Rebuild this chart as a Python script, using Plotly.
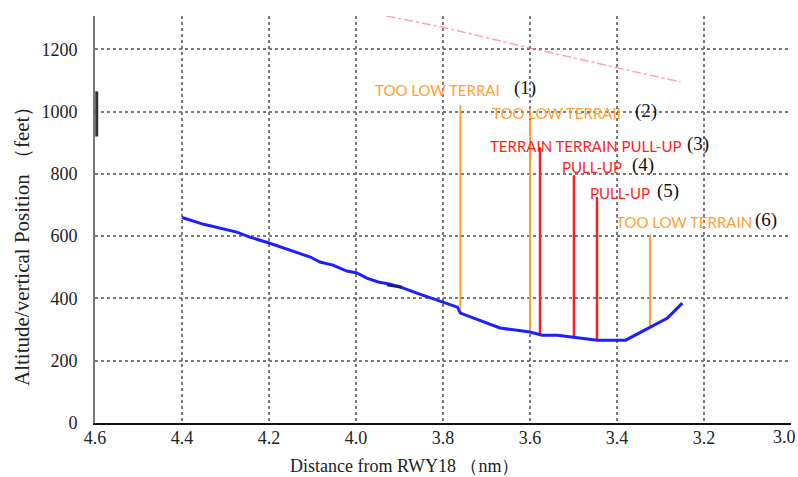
import plotly.graph_objects as go

# Flight path (distance nm, altitude ft)
path_x = [4.40, 4.35, 4.274, 4.244, 4.20, 4.135, 4.105, 4.083, 4.053, 4.021, 3.998, 3.975,
          3.949, 3.922, 3.899, 3.86, 3.80, 3.767, 3.760, 3.669, 3.60, 3.572, 3.537, 3.50,
          3.445, 3.38, 3.353, 3.328, 3.284, 3.25]
path_y = [660, 638, 613, 597, 578, 546, 533, 517, 507, 488, 482, 465,
          453, 446, 437, 417, 388, 372, 353, 305, 292, 282, 282, 276,
          266, 266, 286, 302, 337, 385]

# small dark stroke over the path and mark on the left axis (as in the source image)
stroke_x = [3.929, 3.894]
stroke_y = [444, 436]
axis_mark_x = [4.596, 4.596]
axis_mark_y = [920, 1065]

# Glide reference (faint pink dashed)
glide_x = [3.93, 3.80, 3.60, 3.40, 3.254]
glide_y = [1307, 1271, 1204, 1140, 1095]

# GPWS alerts
alert_x = [3.76, 3.60, 3.577, 3.499, 3.446, 3.324]
alert_bottom = [353, 292, 282, 276, 266, 302]
alert_top = [1021, 973, 886, 796, 726, 604]
alert_text = ["TOO LOW TERRAI", "TOO LOW TERRAII", "TERRAIN TERRAIN PULL-UP",
              "PULL-UP", "PULL-UP", "TOO LOW TERRAIN"]
alert_num = ["(1)", "(2)", "(3)", "(4)", "(5)", "(6)"]
alert_kind = ["caution", "caution", "warning", "warning", "warning", "caution"]

x_ticks = [4.6, 4.4, 4.2, 4.0, 3.8, 3.6, 3.4, 3.2, 3.0]
y_ticks = [0, 200, 400, 600, 800, 1000, 1200]

# label positions (styling)
label_pos = [(3.961, 1069), (3.692, 995), (3.697, 889), (3.531, 822), (3.467, 738), (3.407, 645)]
num_pos = [(3.641, 1075), (3.363, 1002), (3.244, 896), (3.370, 828), (3.313, 745), (3.087, 652)]

colors = {"caution": "#FFA033", "warning": "#FF1E1E"}
widths = {"caution": 2, "warning": 2.5}

fig = go.Figure()

fig.add_trace(go.Scatter(x=glide_x, y=glide_y, mode="lines",
                         line=dict(color="#FF5FA8", width=1.5, dash="dashdot"),
                         opacity=0.6, hoverinfo="skip"))

for xv, yb, yt, k in zip(alert_x, alert_bottom, alert_top, alert_kind):
    fig.add_trace(go.Scatter(x=[xv, xv], y=[yb, yt], mode="lines",
                             line=dict(color=colors[k], width=widths[k])))

fig.add_trace(go.Scatter(x=path_x, y=path_y, mode="lines",
                         line=dict(color="#1E1EFF", width=3)))
fig.add_trace(go.Scatter(x=stroke_x, y=stroke_y, mode="lines",
                         line=dict(color="#1a1a8a", width=3)))
fig.add_trace(go.Scatter(x=axis_mark_x, y=axis_mark_y, mode="lines",
                         line=dict(color="#333", width=3), cliponaxis=False))

for (lx, ly), txt, k in zip(label_pos, alert_text, alert_kind):
    fig.add_annotation(x=lx, y=ly, text=txt, showarrow=False, xanchor="left", yanchor="middle",
                       font=dict(family="Lato", size=15, color=colors[k]))
for (nx, ny), txt in zip(num_pos, alert_num):
    fig.add_annotation(x=nx, y=ny, text=txt, showarrow=False, xanchor="left", yanchor="middle",
                       font=dict(family="Liberation Serif", size=19, color="#111"))

# last x tick label kept inside the page edge
tick_font = dict(family="Liberation Serif", size=18, color="#222")
fig.add_annotation(xref="paper", yref="paper", x=1.0105, y=-0.035, xanchor="right", yanchor="middle",
                   text=f"{x_ticks[-1]:.1f}", showarrow=False, font=tick_font)

# axis titles placed as in the source
fig.add_annotation(xref="paper", yref="paper", x=0.445, y=-0.105, xanchor="center", yanchor="middle",
                   text="Distance from RWY18 （nm）", showarrow=False,
                   font=dict(family="Liberation Serif", size=18, color="#222"))
fig.add_annotation(xref="paper", yref="paper", x=-0.105, y=0.447, xanchor="center", yanchor="middle",
                   text="Altitude/vertical Position （feet）", showarrow=False, textangle=-90,
                   font=dict(family="Liberation Serif", size=21, color="#222"))

fig.update_layout(
    width=798, height=477,
    margin=dict(l=95, r=7, t=16, b=54),
    paper_bgcolor="white", plot_bgcolor="white",
    showlegend=False,
)
fig.update_xaxes(
    range=[4.6, 3.0], tickvals=x_ticks,
    ticktext=[f"{v:.1f}" for v in x_ticks[:-1]] + [""],
    showgrid=True, gridcolor="#7a7a7a", gridwidth=1.5, griddash="dot",
    showline=True, linecolor="#111", linewidth=2, zeroline=False,
    tickfont=tick_font,
    ticks="", ticklabelstandoff=-3, automargin=False,
)
fig.update_yaxes(
    range=[0, 1307], tickvals=y_ticks,
    showgrid=True, gridcolor="#7a7a7a", gridwidth=1.5, griddash="dot",
    showline=True, linecolor="#777", linewidth=2, zeroline=False,
    tickfont=tick_font,
    ticks="", ticklabelstandoff=12, automargin=False,
)

fig.write_html("out.html", config={"displayModeBar": False},
               post_script="document.body.style.margin='0';document.body.style.overflow='hidden';")
